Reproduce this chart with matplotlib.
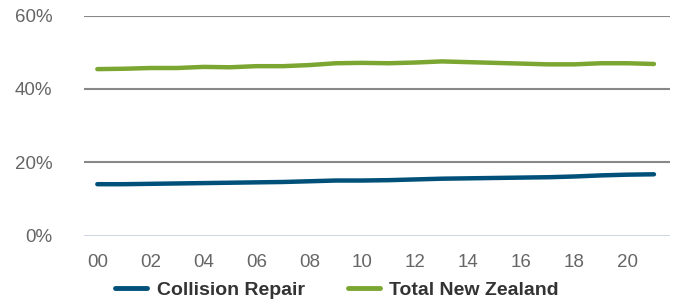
import numpy as np
import matplotlib.pyplot as plt

# data (share of businesses, %)
years = list(range(2000, 2022))
year_labels = ['00', '02', '04', '06', '08', '10', '12', '14', '16', '18', '20']
collision_repair = [14.0, 14.0, 14.1, 14.2, 14.3, 14.4, 14.5, 14.6, 14.8, 15.0, 15.0,
                    15.1, 15.3, 15.5, 15.6, 15.7, 15.8, 15.9, 16.1, 16.4, 16.6, 16.7]
total_nz = [45.4, 45.5, 45.7, 45.7, 46.0, 45.9, 46.2, 46.2, 46.5, 47.0, 47.1,
            47.0, 47.2, 47.5, 47.3, 47.1, 46.9, 46.7, 46.7, 47.0, 47.0, 46.8]

plt.rcParams['font.family'] = ['Liberation Sans', 'DejaVu Sans']

fig = plt.figure(figsize=(6.78, 3.0), dpi=100)
ax = fig.add_axes([0.124, 0.215, 0.864, 0.733])

ax.plot(years, collision_repair, color='#00507a', lw=3.2, solid_capstyle='round',
        label='Collision Repair')
ax.plot(years, total_nz, color='#7ba632', lw=3.2, solid_capstyle='round',
        label='Total New Zealand')

ax.set_ylim(0, 60)
ax.set_xlim(1999.5, 2021.6)
ax.set_yticks([0, 20, 40, 60])
ax.set_yticklabels(['0%', '20%', '40%', '60%'])
ax.set_xticks(years[::2])
ax.set_xticklabels(year_labels)

for y in [20, 40, 60]:
    ax.axhline(y, color='#888888', lw=1.5, zorder=0)
ax.axhline(0, color='#c9d1e0', lw=2, zorder=0)

for s in ax.spines.values():
    s.set_visible(False)
ax.tick_params(axis='both', length=0, labelsize=13.5, labelcolor='#666666')
ax.tick_params(axis='y', pad=23)
ax.tick_params(axis='x', pad=13)

# legend sits at the very bottom, as in the source image
leg = fig.legend(loc='center', bbox_to_anchor=(0.497, 0.034), ncol=2,
                 frameon=False, handlelength=1.65, handletextpad=0.5,
                 columnspacing=2.2, borderpad=0,
                 prop={'weight': 'bold', 'size': 14})
for t in leg.get_texts():
    t.set_color('#333333')
for h in leg.get_lines():
    h.set_linewidth(3.5)

fig.savefig('out.png', dpi=100)
